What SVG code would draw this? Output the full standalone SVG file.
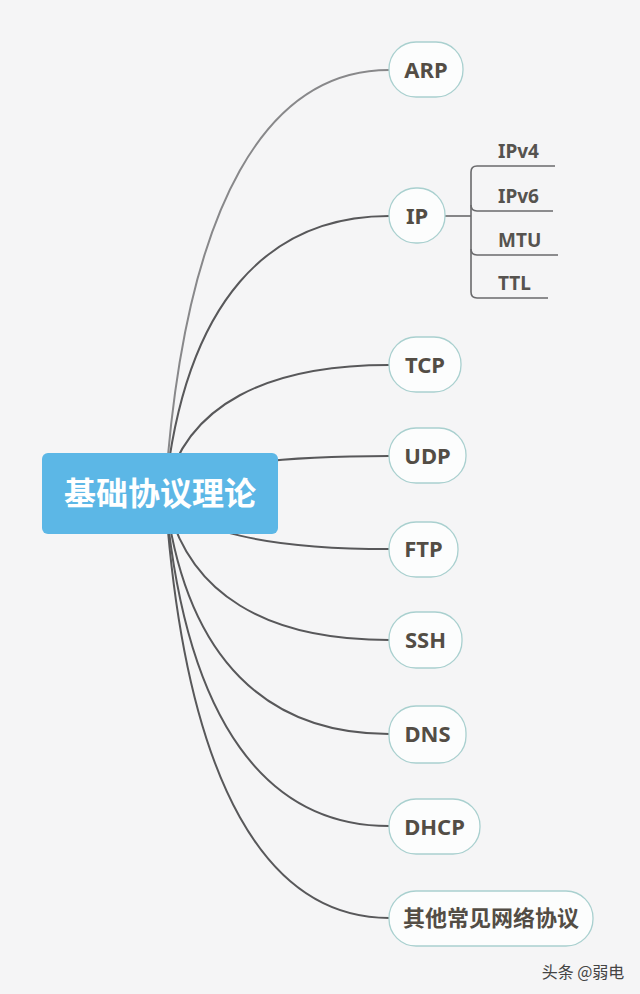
<svg xmlns="http://www.w3.org/2000/svg" width="640" height="994" viewBox="0 0 640 994">
<style>
.bg{fill:#f5f5f6}
.node{fill:#fcfdfd;stroke:#a9d0cf;stroke-width:1.3}
.lbl{font-family:"Noto Sans","Open Sans","Noto Sans CJK SC",sans-serif;font-weight:bold;font-size:22px;fill:#534d45;text-anchor:middle}
.cjk{font-family:"Noto Sans CJK SC",sans-serif}
.sub{font-family:"Noto Sans","Open Sans",sans-serif;font-weight:bold;font-size:19px;fill:#56534f}
.conn{fill:none;stroke:#58585a;stroke-width:2}
.subln{fill:none;stroke:#6a6a6c;stroke-width:1.6}
</style>
<rect class="bg" x="0" y="0" width="640" height="994"/>
<g id="connectors">
<path class="conn" style="stroke:#88888a" d="M165,493 C185,197 270,70 389,70"/>
<path class="conn" d="M165,493 C185,299 270,216 389,216"/>
<path class="conn" d="M165,493 C185,403 270,365 389,365"/>
<path class="conn" d="M165,493 C185,467 270,456 389,456"/>
<path class="conn" d="M165,493 C185,532 270,549 389,549"/>
<path class="conn" d="M165,493 C185,597 270,640 389,640"/>
<path class="conn" d="M165,493 C185,663 270,734 389,734"/>
<path class="conn" d="M165,493 C185,728 270,826 389,826"/>
<path class="conn" d="M165,493 C185,791 270,918 389,918"/>
<path class="subln" d="M445,216 H471"/>
<path class="subln" d="M555,166 H477 Q471,166 471,172 V292 Q471,298 477,298 H548"/>
<path class="subln" d="M471,205 Q471,211 477,211 H553"/>
<path class="subln" d="M471,249 Q471,255 477,255 H558"/>
</g>
<g id="root">
<rect x="42" y="453" width="236" height="81" rx="6" fill="#5cb7e6"/>
<text x="160" y="505" class="cjk" font-size="32" font-weight="bold" fill="#ffffff" text-anchor="middle">基础协议理论</text>
</g>
<g id="arp">
<rect class="node" x="389" y="42" width="74" height="55" rx="27"/>
<text class="lbl" x="426" y="78">ARP</text>
</g>
<g id="ip">
<rect class="node" x="389" y="188" width="56" height="55" rx="27"/>
<text class="lbl" x="417" y="224">IP</text>
</g>
<g id="ipv4"><text class="sub" x="498" y="158">IPv4</text></g>
<g id="ipv6"><text class="sub" x="498" y="203">IPv6</text></g>
<g id="mtu"><text class="sub" x="498" y="247">MTU</text></g>
<g id="ttl"><text class="sub" x="498" y="290">TTL</text></g>
<g id="tcp">
<rect class="node" x="389" y="337" width="72" height="55" rx="27"/>
<text class="lbl" x="425" y="373">TCP</text>
</g>
<g id="udp">
<rect class="node" x="389" y="428" width="77" height="55" rx="27"/>
<text class="lbl" x="427.5" y="464">UDP</text>
</g>
<g id="ftp">
<rect class="node" x="389" y="522" width="69" height="55" rx="27"/>
<text class="lbl" x="423.5" y="557">FTP</text>
</g>
<g id="ssh">
<rect class="node" x="389" y="612" width="73" height="56" rx="27"/>
<text class="lbl" x="425.5" y="648">SSH</text>
</g>
<g id="dns">
<rect class="node" x="389" y="706" width="77" height="57" rx="27"/>
<text class="lbl" x="427.5" y="742">DNS</text>
</g>
<g id="dhcp">
<rect class="node" x="389" y="799" width="91" height="55" rx="27"/>
<text class="lbl" x="434.5" y="835">DHCP</text>
</g>
<g id="other">
<rect class="node" x="389" y="891" width="204" height="55" rx="27"/>
<text class="lbl cjk" x="491" y="926">其他常见网络协议</text>
</g>
<text x="583" y="978" font-family="Noto Sans CJK SC,sans-serif" font-size="16" fill="#444444" text-anchor="middle">头条 @弱电</text>
</svg>
